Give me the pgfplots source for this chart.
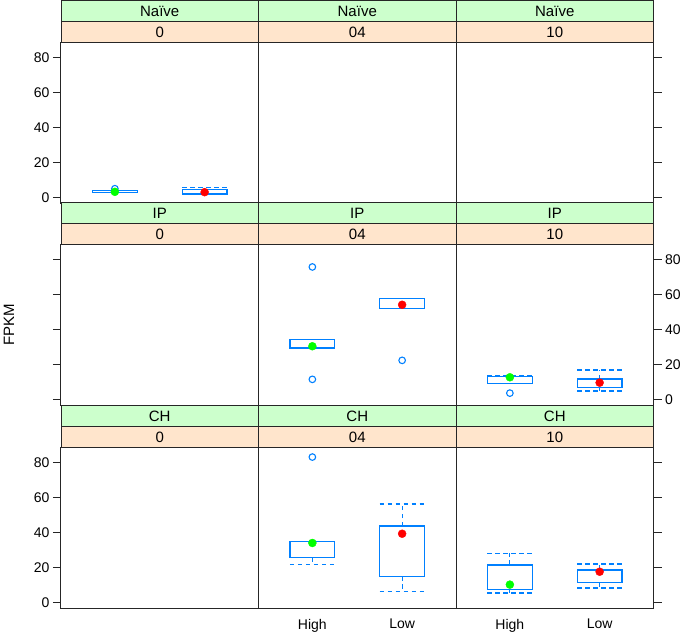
\documentclass[border=0pt]{standalone}
\usepackage{pgfplots}
\pgfplotsset{compat=1.18}
\usepgfplotslibrary{statistics}
\usepackage{fontspec}
\setmainfont{Liberation Sans}
\definecolor{bwblue}{HTML}{0080FF}
\definecolor{stripgreen}{HTML}{CCFFCC}
\definecolor{striporange}{HTML}{FFE5CC}
\definecolor{medgreen}{HTML}{00FF00}
\definecolor{medred}{HTML}{FF0000}

\pgfplotsset{
  panel/.style={
    scale only axis, width=197.5pt, height=160.5pt,
    anchor=north west,
    xmin=0.4, xmax=2.6, ymin=-3.5, ymax=88.6,
    xtick=\empty, ytick=\empty,
    axis line style={draw=black!85, line width=1pt},
    tick style={draw=black!85, line width=1pt},
    tick align=outside, major tick length=8pt,
    tick label style={font=\fontsize{14}{16}\selectfont},
    /pgf/number format/assume math mode=true,
    clip=false,
    boxplot/draw direction=y,
    boxplot/box extend=0.5,
    boxplot/every box/.style={draw=bwblue, line width=1.2pt},
    boxplot/draw/median/.code={},
    boxplot/draw/lower whisker/.code={},
    boxplot/draw/upper whisker/.code={},
  },
  ylab left/.style={ytick={0,20,...,80}, ytick pos=left},
  yticks left/.style={ytick={0,20,...,80}, ytick pos=left, yticklabels={}},
  ylab right/.style={ytick={0,20,...,80}, ytick pos=right, yticklabel pos=right},
  yticks right/.style={ytick={0,20,...,80}, ytick pos=right, yticklabels={}},
  xlab/.style={xtick={1,2}, xticklabels={High,Low}, xtick pos=bottom,
    xtick style={draw=none}, xticklabel style={yshift=1pt}},
  bp/.style={color=bwblue, line width=1.2pt},
  whisk/.style={color=bwblue, line width=1.2pt, dash pattern=on 4.5pt off 3.5pt, mark=none},
  outl/.style={only marks, mark=o, mark size=3.3pt, draw=bwblue, mark options={line width=1.1pt}},
  medH/.style={only marks, mark=*, mark size=4pt, color=medgreen},
  medL/.style={only marks, mark=*, mark size=4pt, color=medred},
}

% whisker: x position, cap left, cap right, quartile, whisker end
\newcommand{\whisk}[5]{%
  \addplot[whisk] coordinates {(#1,#4) (#1,#5)};
  \addplot[whisk] coordinates {(#2,#5) (#3,#5)};
}

\newcommand{\strip}[4]{%
  \draw[fill=stripgreen, draw=black!85, line width=1pt] (#1pt,#2pt) rectangle ++(197.5pt,-21pt);
  \node[font=\fontsize{15}{17}\selectfont] at ([xshift=98.75pt,yshift=-10.5pt]#1pt,#2pt) {#3};
  \draw[fill=striporange, draw=black!85, line width=1pt] ([yshift=-21pt]#1pt,#2pt) rectangle ++(197.5pt,-21pt);
  \node[font=\fontsize{15}{17}\selectfont] at ([xshift=98.75pt,yshift=-31.5pt]#1pt,#2pt) {#4};
}

\begin{document}
\begin{tikzpicture}[x=1pt,y=1pt]
\useasboundingbox (0,0) rectangle (685,632);

% row 1: Naive
\begin{axis}[panel, ylab left, at={(61pt,589pt)}]
  \addplot[bp, boxplot prepared={draw position=1, lower whisker=2.8, lower quartile=3.0,
    median=3.2, upper quartile=3.8, upper whisker=4.0}] coordinates {};
  \addplot[bp, boxplot prepared={draw position=2, lower whisker=1.5, lower quartile=2.0,
    median=3.0, upper quartile=4.4, upper whisker=5.6}] coordinates {};
  \whisk{1}{0.75}{1.25}{3.0}{2.8}
  \whisk{1}{0.75}{1.25}{3.8}{4.0}
  \whisk{2}{1.75}{2.25}{2.0}{1.5}
  \whisk{2}{1.75}{2.25}{4.4}{5.6}
  \addplot[outl] coordinates {(1,5.0)};
  \addplot[medH] coordinates {(1,3.2)};
  \addplot[medL] coordinates {(2,3.0)};
\end{axis}
\begin{axis}[panel, at={(258.5pt,589pt)}]
\end{axis}
\begin{axis}[panel, yticks right, at={(456pt,589pt)}]
\end{axis}

% row 2: IP
\begin{axis}[panel, yticks left, at={(61pt,387pt)}]
\end{axis}
\begin{axis}[panel, at={(258.5pt,387pt)}]
  \addplot[bp, boxplot prepared={draw position=1, lower whisker=29.5, lower quartile=29.5,
    median=30.5, upper quartile=34.4, upper whisker=34.4}] coordinates {};
  \addplot[bp, boxplot prepared={draw position=2, lower whisker=52.2, lower quartile=52.2,
    median=54.3, upper quartile=57.7, upper whisker=57.7}] coordinates {};
  \addplot[outl] coordinates {(1,76.0) (1,11.5) (2,22.4)};
  \addplot[medH] coordinates {(1,30.5)};
  \addplot[medL] coordinates {(2,54.3)};
\end{axis}
\begin{axis}[panel, ylab right, at={(456pt,387pt)}]
  \addplot[bp, boxplot prepared={draw position=1, lower whisker=9.2, lower quartile=9.2,
    median=12.7, upper quartile=13.2, upper whisker=13.4}] coordinates {};
  \addplot[bp, boxplot prepared={draw position=2, lower whisker=4.8, lower quartile=6.7,
    median=9.6, upper quartile=11.7, upper whisker=16.9}] coordinates {};
  \whisk{1}{0.75}{1.25}{13.2}{13.6}
  \whisk{2}{1.75}{2.25}{6.7}{4.8}
  \whisk{2}{1.75}{2.25}{11.7}{16.9}
  \addplot[outl] coordinates {(1,3.6)};
  \addplot[medH] coordinates {(1,12.7)};
  \addplot[medL] coordinates {(2,9.6)};
\end{axis}

% row 3: CH
\begin{axis}[panel, ylab left, at={(61pt,184pt)}]
\end{axis}
\begin{axis}[panel, xlab, at={(258.5pt,184pt)}]
  \addplot[bp, boxplot prepared={draw position=1, lower whisker=21.6, lower quartile=25.8,
    median=34.1, upper quartile=35.0, upper whisker=35.0}] coordinates {};
  \addplot[bp, boxplot prepared={draw position=2, lower whisker=6.1, lower quartile=14.9,
    median=39.4, upper quartile=43.8, upper whisker=56.5}] coordinates {};
  \whisk{1}{0.75}{1.25}{25.8}{21.6}
  \whisk{2}{1.75}{2.25}{14.9}{6.1}
  \whisk{2}{1.75}{2.25}{43.8}{56.5}
  \addplot[outl] coordinates {(1,83.4)};
  \addplot[medH] coordinates {(1,34.1)};
  \addplot[medL] coordinates {(2,39.4)};
\end{axis}
\begin{axis}[panel, yticks right, xlab, at={(456pt,184pt)}]
  \addplot[bp, boxplot prepared={draw position=1, lower whisker=5.4, lower quartile=7.3,
    median=10.2, upper quartile=21.5, upper whisker=28.1}] coordinates {};
  \addplot[bp, boxplot prepared={draw position=2, lower whisker=8.3, lower quartile=11.5,
    median=17.6, upper quartile=18.6, upper whisker=22.0}] coordinates {};
  \whisk{1}{0.75}{1.25}{7.3}{5.4}
  \whisk{1}{0.75}{1.25}{21.5}{28.1}
  \whisk{2}{1.75}{2.25}{11.5}{8.3}
  \whisk{2}{1.75}{2.25}{18.6}{22.0}
  \addplot[medH] coordinates {(1,10.2)};
  \addplot[medL] coordinates {(2,17.6)};
\end{axis}

% strips
\strip{61}{631}{Naïve}{0}
\strip{258.5}{631}{Naïve}{04}
\strip{456}{631}{Naïve}{10}
\strip{61}{429}{IP}{0}
\strip{258.5}{429}{IP}{04}
\strip{456}{429}{IP}{10}
\strip{61}{226}{CH}{0}
\strip{258.5}{226}{CH}{04}
\strip{456}{226}{CH}{10}

\node[rotate=90, font=\fontsize{15}{17}\selectfont] at (9,307) {FPKM};
\end{tikzpicture}
\end{document}
